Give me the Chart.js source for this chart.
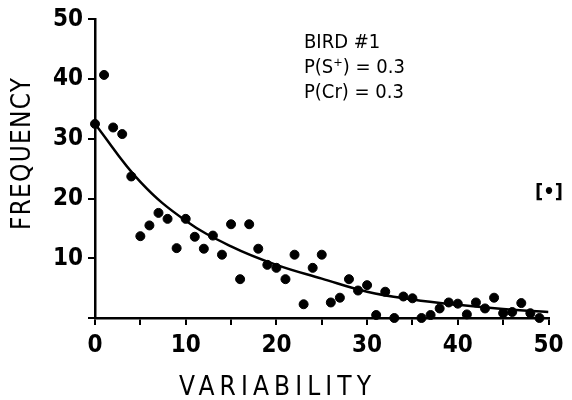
<!DOCTYPE html>
<html>
<head>
<meta charset="utf-8">
<script src="https://cdn.jsdelivr.net/npm/chart.js@4"></script>
<style>
  html, body { margin: 0; padding: 0; background: #fff; }
  #wrap { width: 572px; height: 400px; }
</style>
</head>
<body>
<div id="wrap"><canvas id="myChart" width="572" height="400"></canvas></div>
<script>
// observed frequencies, one per variability value
const variability = [0, 1, 2, 3, 4, 5, 6, 7, 8, 9, 10, 11, 12, 13, 14, 15, 16, 17, 18, 19, 20, 21, 22, 23, 24,
  25, 26, 27, 28, 29, 30, 31, 32, 33, 34, 35, 36, 37, 38, 39, 40, 41, 42, 43, 44, 45, 46, 47, 48, 49]
const frequency = [32.5, 40.7, 31.9, 30.8, 23.7, 13.7, 15.5, 17.6, 16.6, 11.7, 16.6, 13.6, 11.6, 13.8, 10.6,
  15.7, 6.5, 15.7, 11.6, 8.9, 8.4, 6.5, 10.6, 2.3, 8.4, 10.6, 2.6, 3.4, 6.5, 4.6, 5.5, 0.5, 4.4, 0, 3.6,
  3.3, 0, 0.5, 1.6, 2.6, 2.4, 0.6, 2.6, 1.6, 3.4, 0.8, 1.0, 2.5, 0.8, 0]

// fitted curve
const fitX = [0, 5, 10, 15, 20, 25, 30, 35, 40, 45, 50]
const fitY = [32.5, 22.8, 16.3, 12.0, 8.9, 6.6, 4.4, 3.1, 2.2, 1.5, 1.0]

const yTicks = [10, 20, 30, 40, 50]
const xLabels = [0, 10, 20, 30, 40, 50]

const notes = ['BIRD #1', 'P(S\u207A) = 0.3', 'P(Cr) = 0.3']
const panel = '[\u2022]'
const xTitle = 'VARIABILITY'
const yTitle = 'FREQUENCY'

const FONT = '"DejaVu Sans Condensed", "DejaVu Sans", sans-serif'

// draws text stretched with letter spacing to a given width
function spaced(ctx, text, cx, cy, width) {
  ctx.letterSpacing = '0px'
  let w = ctx.measureText(text).width
  let gap = (width - w) / (text.length - 1)
  ctx.letterSpacing = gap + 'px'
  let w2 = ctx.measureText(text).width
  ctx.textAlign = 'left'
  ctx.fillText(text, cx - (w2 - gap) / 2, cy)
  ctx.letterSpacing = '0px'
}

const labels = {
  id: 'labels',
  afterDraw(chart) {
    const ctx = chart.ctx
    ctx.save()
    ctx.fillStyle = '#000'
    ctx.textBaseline = 'middle'

    ctx.font = '20px ' + FONT
    ctx.textAlign = 'left'
    notes.forEach((t, i) => ctx.fillText(t, 304, 43 + i * 25))

    ctx.font = 'bold 20px ' + FONT
    ctx.textAlign = 'center'
    ctx.fillText(panel, 549, 193)

    ctx.font = '26px ' + FONT
    spaced(ctx, xTitle, 275, 388, 192)

    ctx.translate(23, 154)
    ctx.rotate(-Math.PI / 2)
    spaced(ctx, yTitle, 0, 0, 152)
    ctx.restore()
  }
}

const ctx = document.getElementById('myChart')

new Chart(ctx, {
  type: 'scatter',
  data: {
    datasets: [{
      data: variability.map((x, i) => ({ x: x, y: frequency[i] })),
      backgroundColor: '#000',
      borderColor: '#000',
      pointRadius: 4.5,
      clip: false
    }, {
      type: 'line',
      data: fitX.map((x, i) => ({ x: x, y: fitY[i] })),
      borderColor: '#000',
      borderWidth: 2.5,
      pointRadius: 0,
      tension: 0.4,
      fill: false
    }]
  },
  plugins: [labels],
  options: {
    responsive: false,
    animation: false,
    layout: { padding: { top: 18, right: 23.5, left: 0, bottom: 0 } },
    plugins: {
      legend: { display: false },
      tooltip: { enabled: false }
    },
    scales: {
      x: {
        type: 'linear',
        min: 0,
        max: 50,
        afterFit: s => { s.height = 82 },
        border: { display: true, color: '#000', width: 2.5 },
        grid: { display: true, drawOnChartArea: false, drawTicks: true, tickLength: 7, color: '#000', lineWidth: 2 },
        ticks: {
          stepSize: 5,
          padding: 6,
          color: '#000',
          font: { family: FONT, size: 24, weight: 'bold' },
          maxRotation: 0,
          autoSkip: false,
          callback: v => xLabels.includes(v) ? String(v) : ''
        }
      },
      y: {
        min: 0,
        max: 50,
        afterFit: s => { s.width = 95 },
        border: { display: true, color: '#000', width: 2.5 },
        grid: { display: true, drawOnChartArea: false, drawTicks: true, tickLength: 7, color: '#000', lineWidth: 2 },
        ticks: {
          stepSize: 10,
          padding: 5,
          color: '#000',
          font: { family: FONT, size: 24, weight: 'bold' },
          callback: v => yTicks.includes(v) ? String(v) : ''
        }
      }
    }
  }
});
</script>
</body>
</html>
